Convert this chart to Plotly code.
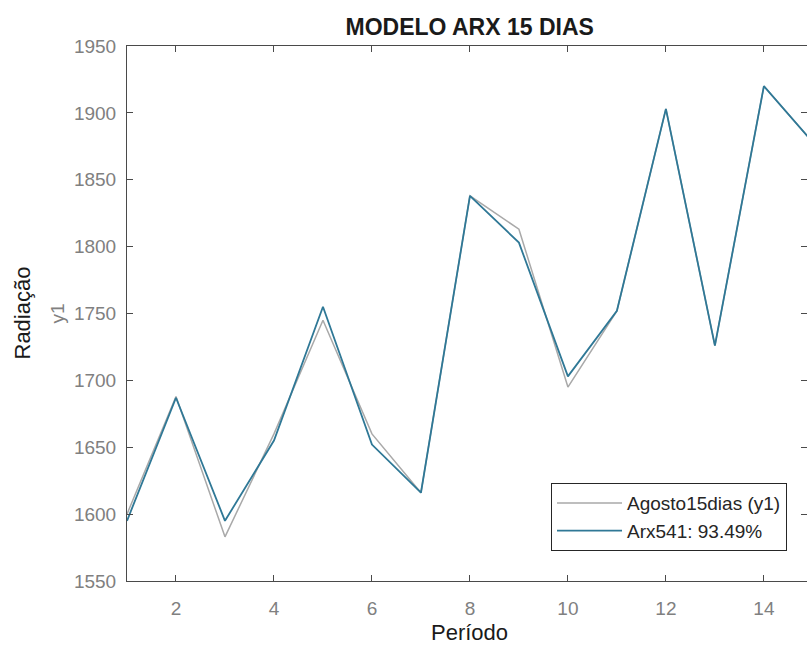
import plotly.graph_objects as go

periodo = [1, 2, 3, 4, 5, 6, 7, 8, 9, 10, 11, 12, 13, 14, 15]
agosto15dias = [1600, 1688, 1583, 1660, 1745, 1660, 1616, 1838, 1813, 1695, 1752, 1903, 1726, 1920, 1878]
arx541 = [1595, 1687, 1595, 1655, 1755, 1652, 1616, 1838, 1803, 1703, 1752, 1903, 1726, 1920, 1878]
y_ticks = [1550, 1600, 1650, 1700, 1750, 1800, 1850, 1900, 1950]
x_ticks = [2, 4, 6, 8, 10, 12, 14]

FONT = "Liberation Sans, Arial, sans-serif"
TICK_COLOR = "#808080"
AXIS_COLOR = "#4a4a4a"

fig = go.Figure()
fig.add_trace(go.Scatter(x=periodo, y=agosto15dias, mode="lines",
                         name="Agosto15dias (y1)",
                         line=dict(color="#a9a9a9", width=1.5)))
fig.add_trace(go.Scatter(x=periodo, y=arx541, mode="lines",
                         name="Arx541: 93.49%",
                         line=dict(color="#2f7896", width=1.8)))

fig.update_layout(
    width=807, height=647,
    margin=dict(l=127, r=0, t=46, b=66),
    paper_bgcolor="white", plot_bgcolor="white",
    font=dict(family=FONT, size=19, color=TICK_COLOR),
    title=dict(text="<b>MODELO ARX 15 DIAS</b>", x=0.504, xref="paper", xanchor="center",
               y=1 - 27 / 647, yref="container", yanchor="middle",
               font=dict(family=FONT, size=23, color="#1a1a1a")),
    showlegend=True,
    legend=dict(x=0.9706, y=0.056, xanchor="right", yanchor="bottom",
                bgcolor="white", bordercolor="#262626", borderwidth=1,
                font=dict(family=FONT, size=19, color="#262626"),
                tracegroupgap=0, itemwidth=65),
    xaxis=dict(range=[1, 14.88], tickvals=x_ticks, ticks="inside", ticklen=6,
               tickcolor=AXIS_COLOR, showline=True, linecolor=AXIS_COLOR, linewidth=1,
               mirror="ticks", showgrid=False, zeroline=False, ticklabelstandoff=10,
               tickfont=dict(color=TICK_COLOR, size=19)),
    yaxis=dict(range=[1550, 1950], tickvals=y_ticks, ticks="inside", ticklen=6,
               tickcolor=AXIS_COLOR, showline=True, linecolor=AXIS_COLOR, linewidth=1,
               mirror="ticks", showgrid=False, zeroline=False, ticklabelstandoff=6,
               tickfont=dict(color=TICK_COLOR, size=19)),
    annotations=[
        dict(text="Período", xref="paper", yref="paper", x=0.504, y=-(632 - 581) / 535,
             xanchor="center", yanchor="middle", showarrow=False,
             font=dict(family=FONT, size=22, color="#1a1a1a")),
        dict(text="Radiação", xref="paper", yref="paper", x=(22 - 127) / 680, y=0.5,
             xanchor="center", yanchor="middle", textangle=-90, showarrow=False,
             font=dict(family=FONT, size=22, color="#1a1a1a")),
        dict(text="y1", xref="paper", yref="paper", x=(57 - 127) / 680, y=0.5,
             xanchor="center", yanchor="middle", textangle=-90, showarrow=False,
             font=dict(family=FONT, size=19, color=TICK_COLOR)),
    ],
)

fig.write_html("out.html")
